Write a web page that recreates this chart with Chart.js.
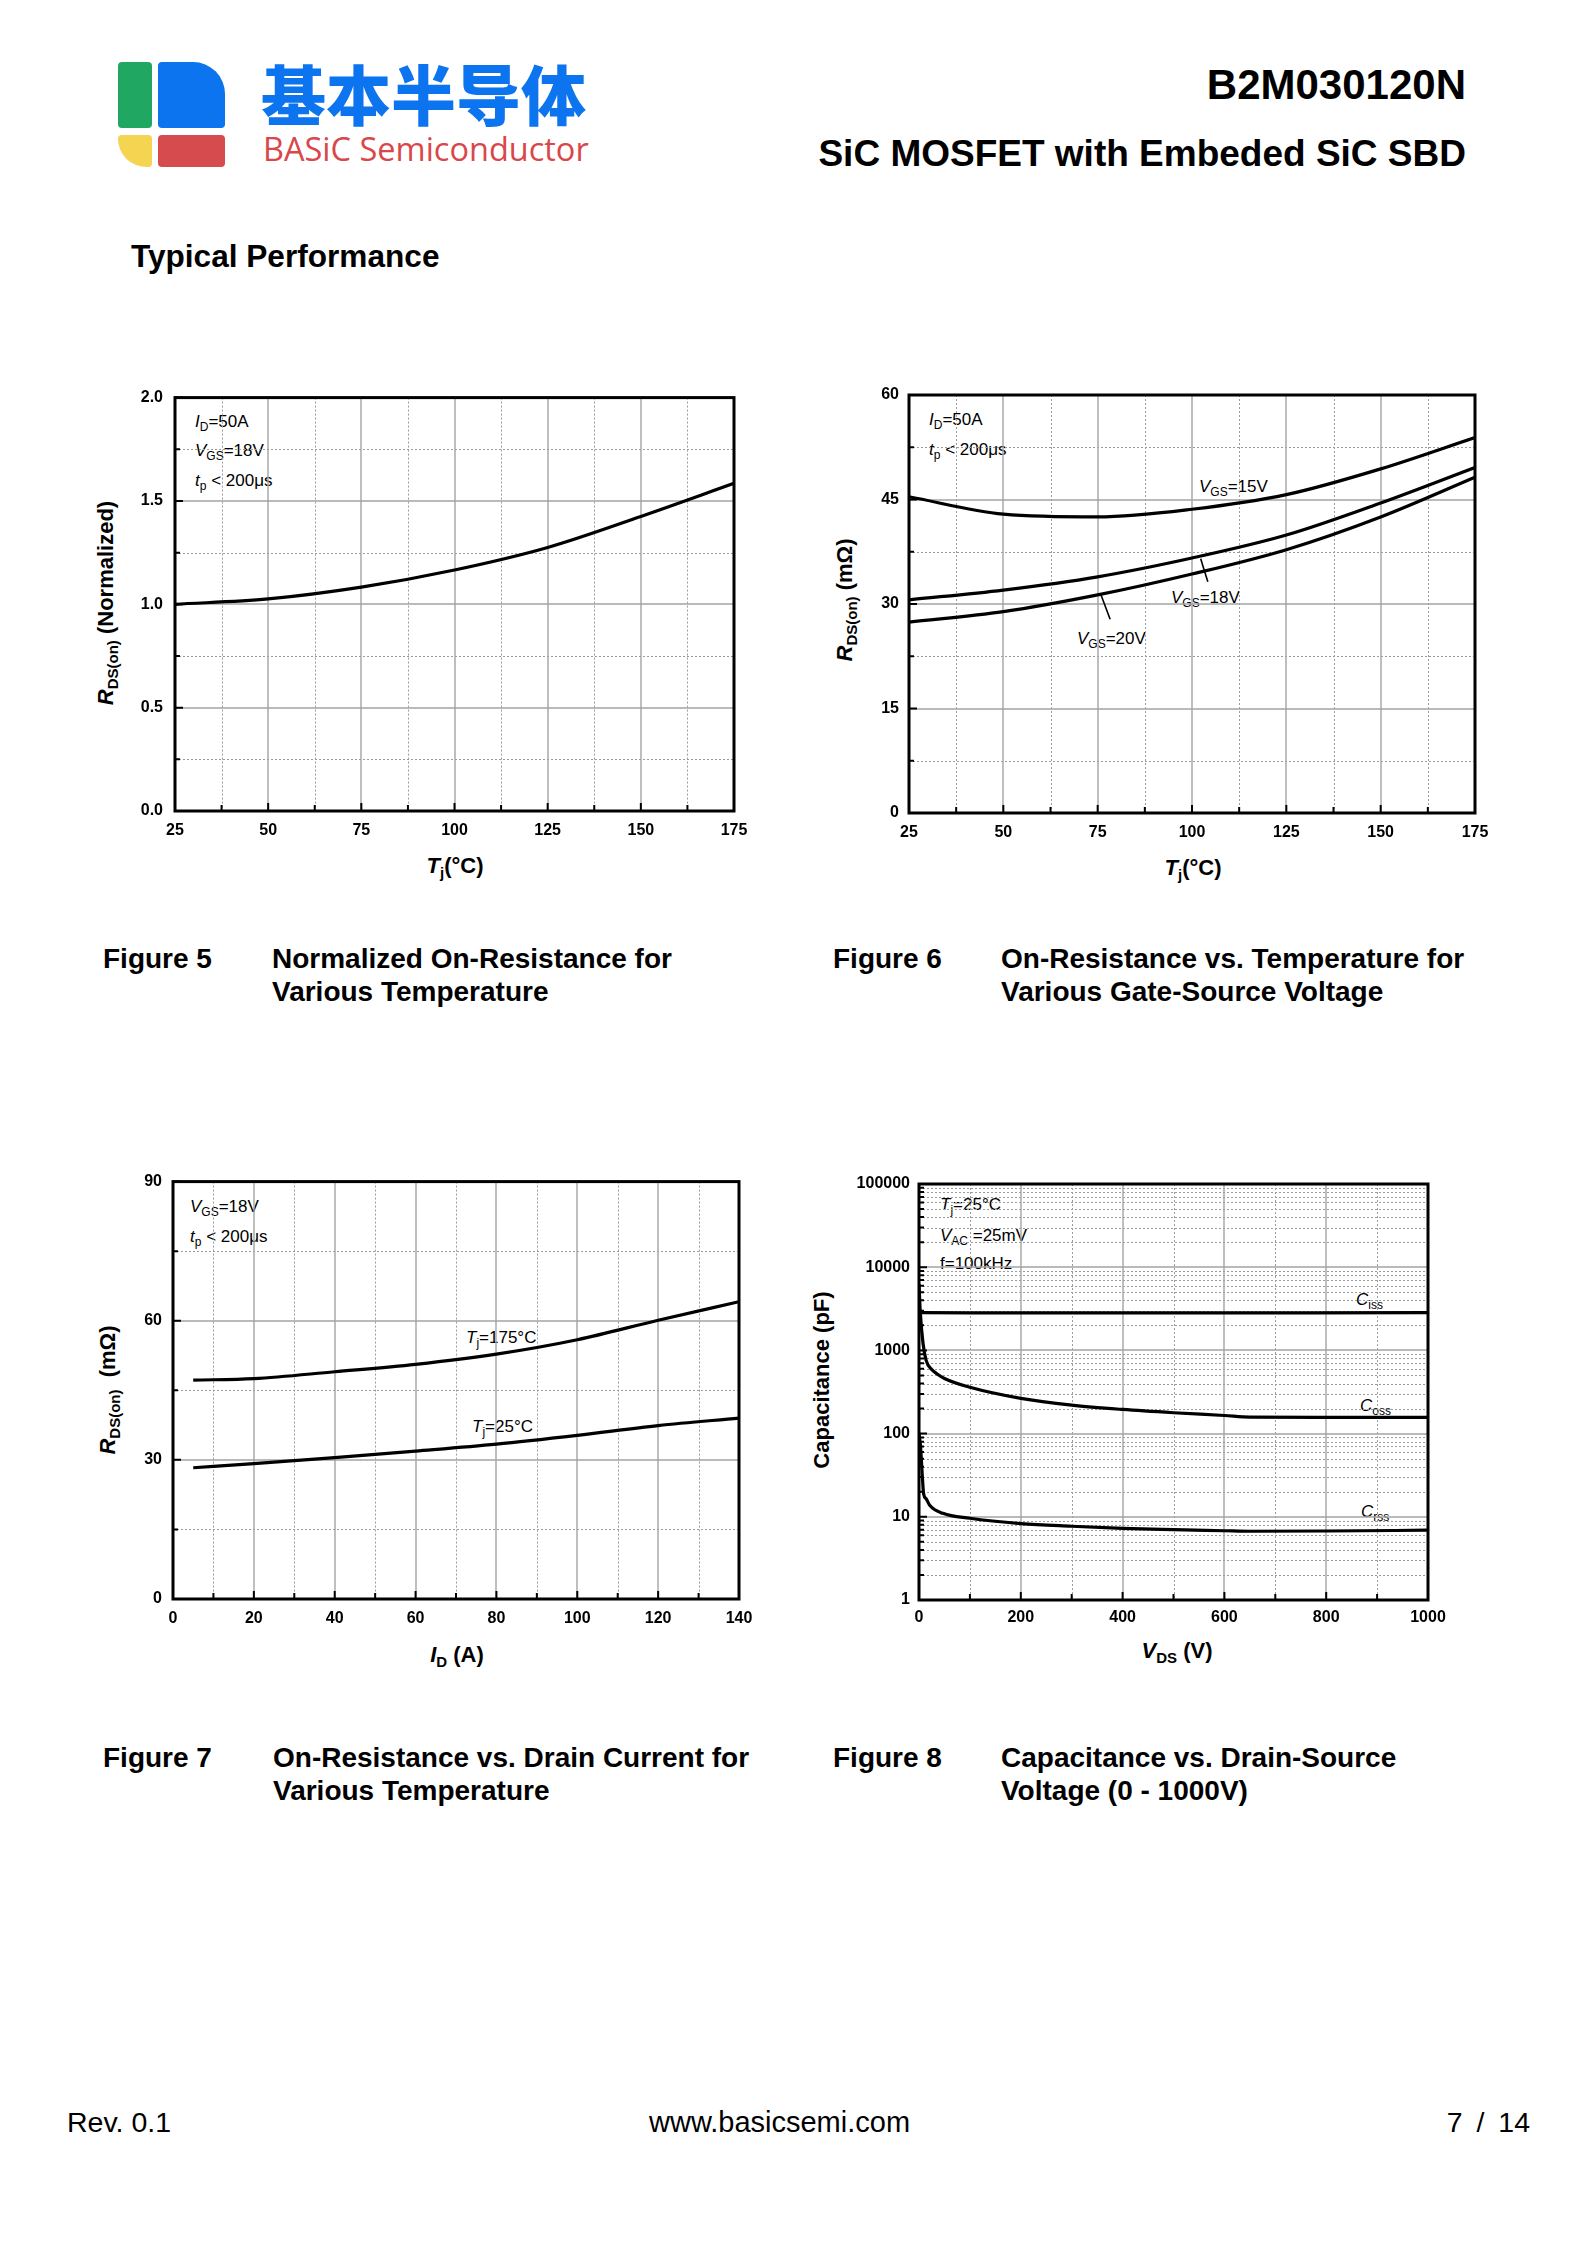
<!DOCTYPE html>
<html><head><meta charset="utf-8">
<script src="https://cdn.jsdelivr.net/npm/chart.js@4.4.1/dist/chart.umd.min.js"></script>
<style>
html,body{margin:0;padding:0;background:#fff;}
#page{position:relative;width:1588px;height:2245px;background:#fff;overflow:hidden;font-family:"Liberation Sans",Arial,Helvetica,sans-serif;color:#000;}
.abs{position:absolute;white-space:nowrap;line-height:1;}
canvas{position:absolute;}
.hdr{font-weight:bold;}
.cap{position:absolute;white-space:nowrap;font-weight:bold;font-size:28px;line-height:33px;}
.ann{position:absolute;white-space:nowrap;font-size:17px;line-height:1;transform:translateY(-50%);}
.ann sub{font-size:12px;vertical-align:-4px;line-height:0;}
.xt{position:absolute;white-space:nowrap;font-weight:bold;font-size:22px;line-height:1;transform:translate(-50%,-50%);}
.yt{position:absolute;white-space:nowrap;font-weight:bold;font-size:22px;line-height:1;transform:translate(-50%,-50%) rotate(-90deg);}
.xt sub,.yt sub{font-size:15px;vertical-align:-5px;line-height:0;}
.logo{position:absolute;}
</style></head>
<body>
<div id="page">
  <!-- logo -->
  <div class="logo" style="left:118px;top:62px;width:34px;height:66px;background:#20A862;border-radius:4px;"></div>
  <div class="logo" style="left:158px;top:62px;width:67px;height:66px;background:#0B74EE;border-radius:4px 32px 4px 4px;"></div>
  <div class="logo" style="left:118px;top:135px;width:34px;height:32px;background:#F4D451;border-radius:4px 4px 4px 30px;"></div>
  <div class="logo" style="left:158px;top:135px;width:67px;height:32px;background:#D64B4D;border-radius:4px;"></div>
  <div class="abs" style="left:261px;top:60px;font-family:'Noto Sans CJK SC';font-weight:900;font-size:65px;color:#0B74EE;">基本半导体</div>
  <div class="abs" style="left:263px;top:133px;font-family:'Open Sans','Noto Sans',sans-serif;font-size:32.5px;color:#D9474A;">BASiC Semiconductor</div>

  <div class="abs hdr" style="right:122px;top:64px;font-size:42px;">B2M030120N</div>
  <div class="abs hdr" style="right:122px;top:135px;font-size:37px;">SiC MOSFET with Embeded SiC SBD</div>
  <div class="abs hdr" style="left:131px;top:241px;font-size:31.6px;">Typical Performance</div>

  <!-- Figure 5 texts -->
  <div class="ann" style="left:195px;top:421px;"><i>I</i><sub>D</sub>=50A</div>
  <div class="ann" style="left:195px;top:450px;"><i>V</i><sub>GS</sub>=18V</div>
  <div class="ann" style="left:195px;top:480px;"><i>t</i><sub>p</sub> &lt; 200μs</div>
  <div class="xt" style="left:455px;top:866px;"><i>T</i><sub>j</sub>(°C)</div>
  <div class="yt" style="left:106px;top:603px;"><i>R</i><sub>DS(on)</sub> (Normalized)</div>

  <!-- Figure 6 texts -->
  <div class="ann" style="left:929px;top:419px;"><i>I</i><sub>D</sub>=50A</div>
  <div class="ann" style="left:929px;top:449px;"><i>t</i><sub>p</sub> &lt; 200μs</div>
  <div class="ann" style="left:1199px;top:486px;"><i>V</i><sub>GS</sub>=15V</div>
  <div class="ann" style="left:1171px;top:597px;"><i>V</i><sub>GS</sub>=18V</div>
  <div class="ann" style="left:1077px;top:638px;"><i>V</i><sub>GS</sub>=20V</div>
  <div class="xt" style="left:1193px;top:868px;"><i>T</i><sub>j</sub>(°C)</div>
  <div class="yt" style="left:845px;top:600px;"><i>R</i><sub>DS(on)</sub> (mΩ)</div>

  <!-- Figure 7 texts -->
  <div class="ann" style="left:190px;top:1206px;"><i>V</i><sub>GS</sub>=18V</div>
  <div class="ann" style="left:190px;top:1236px;"><i>t</i><sub>p</sub> &lt; 200μs</div>
  <div class="ann" style="left:466px;top:1337px;"><i>T</i><sub>j</sub>=175°C</div>
  <div class="ann" style="left:472px;top:1426px;"><i>T</i><sub>j</sub>=25°C</div>
  <div class="xt" style="left:457px;top:1655px;"><i>I</i><sub>D</sub> (A)</div>
  <div class="yt" style="left:108px;top:1390px;"><i>R</i><sub>DS(on)</sub>&nbsp; (mΩ)</div>

  <!-- Figure 8 texts -->
  <div class="ann" style="left:940px;top:1204px;"><i>T</i><sub>j</sub>=25°C</div>
  <div class="ann" style="left:940px;top:1235px;"><i>V</i><sub>AC</sub> =25mV</div>
  <div class="ann" style="left:940px;top:1263px;">f=100kHz</div>
  <div class="ann" style="left:1356px;top:1299px;"><i>C</i><sub>iss</sub></div>
  <div class="ann" style="left:1360px;top:1405px;"><i>C</i><sub>oss</sub></div>
  <div class="ann" style="left:1361px;top:1511px;"><i>C</i><sub>rss</sub></div>
  <div class="xt" style="left:1177px;top:1651px;"><i>V</i><sub>DS</sub> (V)</div>
  <div class="yt" style="left:822px;top:1380px;">Capacitance (pF)</div>

  <!-- captions -->
  <div class="cap" style="left:103px;top:942px;">Figure 5</div>
  <div class="cap" style="left:272px;top:942px;">Normalized On-Resistance for<br>Various Temperature</div>
  <div class="cap" style="left:833px;top:942px;">Figure 6</div>
  <div class="cap" style="left:1001px;top:942px;">On-Resistance vs. Temperature for<br>Various Gate-Source Voltage</div>
  <div class="cap" style="left:103px;top:1741px;">Figure 7</div>
  <div class="cap" style="left:273px;top:1741px;">On-Resistance vs. Drain Current for<br>Various Temperature</div>
  <div class="cap" style="left:833px;top:1741px;">Figure 8</div>
  <div class="cap" style="left:1001px;top:1741px;">Capacitance vs. Drain-Source<br>Voltage (0 - 1000V)</div>

  <!-- footer -->
  <div class="abs" style="left:67px;top:2108px;font-size:28.5px;">Rev. 0.1</div>
  <div class="abs" style="left:649px;top:2108px;font-size:29px;">www.basicsemi.com</div>
  <div class="abs" style="right:58px;top:2108px;font-size:28.5px;word-spacing:6px;">7 / 14</div>
</div>

<script>
const FONT_FAMILY = '"Liberation Sans", Arial, Helvetica, sans-serif';

// ---------- Figure 5 : normalized RDS(on) vs Tj ----------
const fig5Temp = [25, 50, 75, 100, 125, 150, 175];
const fig5RdsNorm = [1.00, 1.026, 1.083, 1.166, 1.275, 1.425, 1.585];
const fig5XTicks = [25, 50, 75, 100, 125, 150, 175];
const fig5XTickLabels = ['25', '50', '75', '100', '125', '150', '175'];
const fig5XMinor = [37.5, 62.5, 87.5, 112.5, 137.5, 162.5];
const fig5YTicks = [0, 0.5, 1.0, 1.5, 2.0];
const fig5YTickLabels = ['0.0', '0.5', '1.0', '1.5', '2.0'];
const fig5YMinor = [0.25, 0.75, 1.25, 1.75];

// ---------- Figure 6 : RDS(on) vs Tj for VGS ----------
const fig6Temp = [25, 50, 75, 100, 125, 150, 175];
const fig6Vgs15 = [45.4, 42.9, 42.5, 43.6, 45.7, 49.4, 53.9];
const fig6Vgs18 = [30.6, 32.0, 33.9, 36.6, 39.9, 44.5, 49.6];
const fig6Vgs20 = [27.4, 28.9, 31.3, 34.3, 37.8, 42.5, 48.2];
const fig6Leader18T = [102.3, 104.2];
const fig6Leader18R = [36.5, 33.2];
const fig6Leader20T = [75.9, 78.3];
const fig6Leader20R = [31.3, 27.8];
const fig6XTicks = [25, 50, 75, 100, 125, 150, 175];
const fig6XTickLabels = ['25', '50', '75', '100', '125', '150', '175'];
const fig6XMinor = [37.5, 62.5, 87.5, 112.5, 137.5, 162.5];
const fig6YTicks = [0, 15, 30, 45, 60];
const fig6YTickLabels = ['0', '15', '30', '45', '60'];
const fig6YMinor = [7.5, 22.5, 37.5, 52.5];

// ---------- Figure 7 : RDS(on) vs ID ----------
const fig7Id = [5, 20, 40, 60, 80, 100, 120, 140];
const fig7Tj175 = [47.2, 47.5, 49.0, 50.6, 52.8, 55.9, 60.1, 64.1];
const fig7Tj25 = [28.3, 29.2, 30.5, 31.9, 33.4, 35.3, 37.4, 39.0];
const fig7XTicks = [0, 20, 40, 60, 80, 100, 120, 140];
const fig7XTickLabels = ['0', '20', '40', '60', '80', '100', '120', '140'];
const fig7XMinor = [10, 30, 50, 70, 90, 110, 130];
const fig7YTicks = [0, 30, 60, 90];
const fig7YTickLabels = ['0', '30', '60', '90'];
const fig7YMinor = [15, 45, 75];

// ---------- Figure 8 : capacitances vs VDS ----------
const fig8CissV = [0, 5, 100, 300, 500, 700, 1000];
const fig8Ciss = [2900, 2840, 2830, 2830, 2830, 2830, 2840];
const fig8CossV = [0, 2.5, 8, 14, 25, 35, 50, 100, 200, 300, 400, 500, 600, 650, 800, 1000];
const fig8Coss = [6300, 2900, 1200, 760, 590, 525, 460, 360, 265, 220, 195, 178, 165, 158, 157, 157];
const fig8CrssV = [0, 3, 6, 9, 14, 21, 47, 100, 200, 300, 400, 500, 600, 650, 800, 1000];
const fig8Crss = [100, 70, 35, 19, 16.5, 13.8, 11, 9.6, 8.3, 7.7, 7.25, 7.0, 6.8, 6.7, 6.75, 6.9];
const fig8XTicks = [0, 200, 400, 600, 800, 1000];
const fig8XTickLabels = ['0', '200', '400', '600', '800', '1000'];
const fig8XMinor = [100, 300, 500, 700, 900];
const fig8YTicks = [1, 10, 100, 1000, 10000, 100000];
const fig8YTickLabels = ['1', '10', '100', '1000', '10000', '100000'];
const fig8YMinorMult = [2, 3, 4, 5, 6, 7, 8, 9];

function pts(xs, ys) { return xs.map((x, i) => ({ x: x, y: ys[i] })); }

function curve(xs, ys, width, smooth) {
  return {
    data: pts(xs, ys), borderColor: '#000', borderWidth: width, pointRadius: 0,
    fill: false, cubicInterpolationMode: smooth ? 'monotone' : 'default', tension: 0
  };
}

function gridPlugin(g) {
  return {
    id: 'gridFrame',
    beforeDatasetsDraw(chart) {
      const ctx = chart.ctx, a = chart.chartArea, x = chart.scales.x, y = chart.scales.y;
      ctx.save();
      ctx.lineWidth = 1;
      ctx.strokeStyle = '#9c9c9c';
      ctx.setLineDash([2, 2]);
      ctx.beginPath();
      g.xMinor.forEach(v => { const p = Math.round(x.getPixelForValue(v)) + 0.5; ctx.moveTo(p, a.top); ctx.lineTo(p, a.bottom); });
      g.yMinor.forEach(v => { const p = Math.round(y.getPixelForValue(v)) + 0.5; ctx.moveTo(a.left, p); ctx.lineTo(a.right, p); });
      ctx.stroke();
      ctx.setLineDash([]);
      ctx.strokeStyle = '#a4a4a4';
      ctx.lineWidth = 1.4;
      ctx.beginPath();
      g.xMajor.forEach(v => { const p = Math.round(x.getPixelForValue(v)); ctx.moveTo(p, a.top); ctx.lineTo(p, a.bottom); });
      g.yMajor.forEach(v => { const p = Math.round(y.getPixelForValue(v)); ctx.moveTo(a.left, p); ctx.lineTo(a.right, p); });
      ctx.stroke();
      ctx.restore();
    },
    afterDatasetsDraw(chart) {
      const ctx = chart.ctx, a = chart.chartArea, x = chart.scales.x, y = chart.scales.y;
      ctx.save();
      ctx.strokeStyle = '#000';
      ctx.lineWidth = 2;
      ctx.beginPath();
      g.xMajor.forEach(v => { const p = x.getPixelForValue(v); ctx.moveTo(p, a.bottom); ctx.lineTo(p, a.bottom - 8); });
      g.xMinor.forEach(v => { const p = x.getPixelForValue(v); ctx.moveTo(p, a.bottom); ctx.lineTo(p, a.bottom - 6); });
      g.yMajor.forEach(v => { const p = y.getPixelForValue(v); ctx.moveTo(a.left, p); ctx.lineTo(a.left + 8, p); });
      g.yMinor.forEach(v => { const p = y.getPixelForValue(v); ctx.moveTo(a.left, p); ctx.lineTo(a.left + 5, p); });
      ctx.stroke();
      ctx.lineWidth = 3;
      ctx.strokeRect(a.left, a.top, a.right - a.left, a.bottom - a.top);
      ctx.restore();
    }
  };
}

function axis(type, min, max, ticks, labels, pad, isX) {
  return {
    type: type, min: min, max: max,
    grid: { display: false, drawTicks: false },
    border: { display: false },
    ticks: {
      color: '#000', padding: pad, autoSkip: false, maxRotation: 0, minRotation: 0,
      font: { family: FONT_FAMILY, size: 16, weight: 'bold' },
      callback: (v, i) => labels[i]
    },
    afterBuildTicks: s => { s.ticks = ticks.map(v => ({ value: v })); },
    afterFit: s => { if (isX) s.height = 50; else s.width = 110; }
  };
}

function makeChart(box, datasets, xAxis, yAxis, grid) {
  const cv = document.createElement('canvas');
  const w = box.R - box.L + 150, h = box.B - box.T + 70;
  cv.width = w; cv.height = h;
  cv.style.left = (box.L - 110) + 'px';
  cv.style.top = (box.T - 20) + 'px';
  cv.style.width = w + 'px'; cv.style.height = h + 'px';
  document.getElementById('page').appendChild(cv);
  return new Chart(cv.getContext('2d'), {
    type: 'line',
    data: { datasets: datasets },
    options: {
      responsive: false, animation: false, devicePixelRatio: 1,
      layout: { padding: { left: 0, top: 20, right: 40, bottom: 0 } },
      plugins: { legend: { display: false }, tooltip: { enabled: false } },
      scales: { x: xAxis, y: yAxis }
    },
    plugins: [gridPlugin(grid)]
  });
}

// Figure 5
makeChart({ L: 175, T: 396, R: 734, B: 811 },
  [curve(fig5Temp, fig5RdsNorm, 3.2, true)],
  axis('linear', 25, 175, fig5XTicks, fig5XTickLabels, 10, true),
  axis('linear', 0, 2, fig5YTicks, fig5YTickLabels, 12, false),
  { xMajor: fig5XTicks, xMinor: fig5XMinor, yMajor: fig5YTicks, yMinor: fig5YMinor });

// Figure 6
makeChart({ L: 909, T: 395, R: 1475, B: 813 },
  [curve(fig6Temp, fig6Vgs15, 3.2, true), curve(fig6Temp, fig6Vgs18, 3.2, true), curve(fig6Temp, fig6Vgs20, 3.2, true),
   curve(fig6Leader18T, fig6Leader18R, 1.6, false), curve(fig6Leader20T, fig6Leader20R, 1.6, false)],
  axis('linear', 25, 175, fig6XTicks, fig6XTickLabels, 10, true),
  axis('linear', 0, 60, fig6YTicks, fig6YTickLabels, 10, false),
  { xMajor: fig6XTicks, xMinor: fig6XMinor, yMajor: fig6YTicks, yMinor: fig6YMinor });

// Figure 7
makeChart({ L: 173, T: 1181, R: 739, B: 1599 },
  [curve(fig7Id, fig7Tj175, 3.2, true), curve(fig7Id, fig7Tj25, 3.2, true)],
  axis('linear', 0, 140, fig7XTicks, fig7XTickLabels, 9.5, true),
  axis('linear', 0, 90, fig7YTicks, fig7YTickLabels, 11, false),
  { xMajor: fig7XTicks, xMinor: fig7XMinor, yMajor: fig7YTicks, yMinor: fig7YMinor });

// Figure 8
const fig8YMinor = [];
fig8YTicks.slice(0, -1).forEach(d => fig8YMinorMult.forEach(m => fig8YMinor.push(d * m)));
makeChart({ L: 919, T: 1184, R: 1428, B: 1600 },
  [curve(fig8CissV, fig8Ciss, 3.2, true), curve(fig8CossV, fig8Coss, 3.2, true), curve(fig8CrssV, fig8Crss, 3.2, true)],
  axis('linear', 0, 1000, fig8XTicks, fig8XTickLabels, 7.5, true),
  axis('logarithmic', 1, 100000, fig8YTicks, fig8YTickLabels, 9, false),
  { xMajor: fig8XTicks, xMinor: fig8XMinor, yMajor: fig8YTicks, yMinor: fig8YMinor });
</script>
</body></html>
